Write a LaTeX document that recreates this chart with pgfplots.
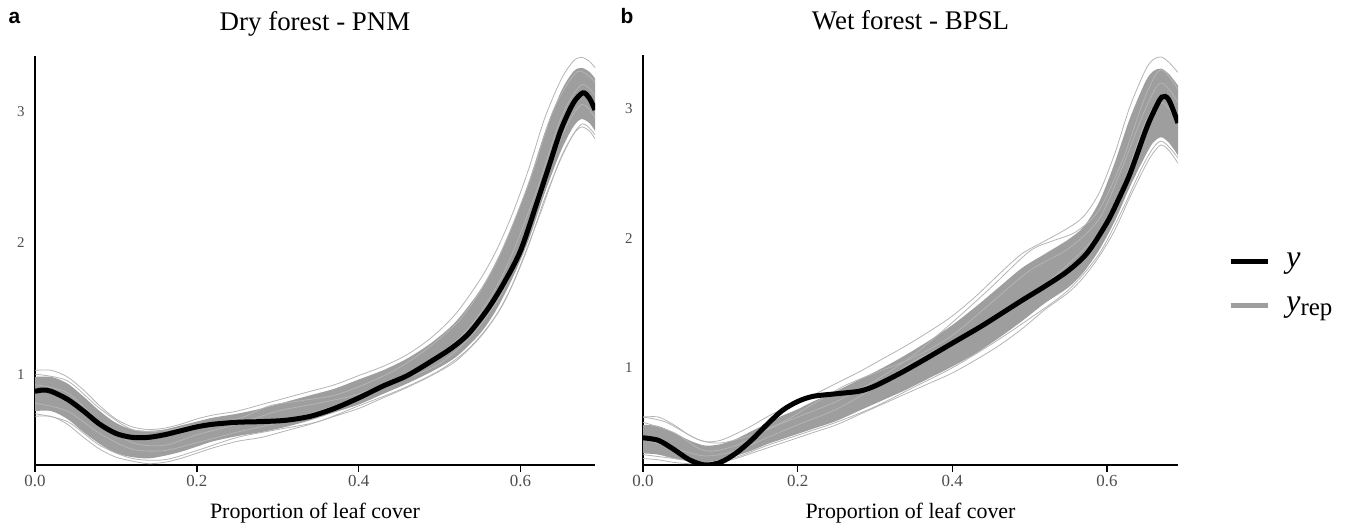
\documentclass[border=0pt]{standalone}
\usepackage{pgfplots}
\pgfplotsset{compat=1.18}
\usepgfplotslibrary{fillbetween}
\usepackage{fontspec}
\setmainfont{Liberation Serif}
\newfontfamily\lab{Liberation Sans}
\newfontfamily\legfont{Liberation Serif}
\definecolor{corecol}{HTML}{9E9E9E}
\definecolor{repcol}{HTML}{B4B4B4}
\pgfplotsset{
  common/.style={
    scale only axis,
    xmin=0, xmax=0.692,
    axis x line*=bottom, axis y line*=left,
    axis line style={-, line width=1.5bp, black},
    xtick={0,0.2,0.4,0.6},
    xticklabels={0.0,0.2,0.4,0.6},
    ytick={1,2,3},
    tick align=outside,
    major tick length=7bp,
    x tick style={line width=1.3bp, black},
    y tick style={draw=none},
    /pgf/number format/assume math mode=true,
    xticklabel style={font=\fontsize{17}{17}\selectfont, text=black!70},
    yticklabel style={font=\fontsize{15}{15}\selectfont, text=black!70},
    xlabel={Proportion of leaf cover},
    xlabel style={font=\fontsize{22}{22}\selectfont, at={(axis description cs:0.5,0)}, anchor=base, yshift=-53bp},
    title style={font=\fontsize{27}{27}\selectfont, at={(axis description cs:0.5,1)}, anchor=base, yshift=20bp},
    clip=true,
  },
  band/.style={fill=corecol, draw=none, forget plot},
  rep/.style={draw=repcol, line width=0.8bp, smooth, forget plot},
  obs/.style={draw=black, line width=5bp, smooth, forget plot},
}
\begin{document}
\begin{tikzpicture}
% ---------------- panel a
\begin{axis}[common, at={(35bp,62bp)}, anchor=south west,
  width=560bp, height=409bp, ymin=0.31, ymax=3.42,
  title={Dry forest - PNM}]
\addplot[rep] coordinates {(0,1.03)(0.02,1.03)(0.04,0.98)(0.06,0.88)(0.08,0.76)(0.10,0.66)(0.12,0.60)(0.14,0.58)(0.16,0.59)(0.18,0.62)(0.20,0.66)(0.22,0.69)(0.25,0.72)(0.28,0.77)(0.31,0.82)(0.34,0.87)(0.37,0.92)(0.40,0.99)(0.43,1.06)(0.46,1.15)(0.49,1.28)(0.52,1.46)(0.55,1.72)(0.57,1.94)(0.59,2.22)(0.61,2.56)(0.63,2.95)(0.65,3.24)(0.665,3.38)(0.675,3.41)(0.685,3.38)(0.692,3.33)};
\addplot[rep] coordinates {(0,0.68)(0.02,0.68)(0.04,0.62)(0.06,0.52)(0.08,0.43)(0.10,0.37)(0.12,0.34)(0.14,0.32)(0.16,0.33)(0.18,0.36)(0.20,0.40)(0.22,0.44)(0.25,0.49)(0.28,0.52)(0.31,0.57)(0.34,0.62)(0.37,0.68)(0.40,0.74)(0.43,0.82)(0.46,0.90)(0.49,0.99)(0.52,1.10)(0.55,1.28)(0.57,1.45)(0.59,1.68)(0.61,1.98)(0.63,2.34)(0.65,2.64)(0.665,2.82)(0.675,2.88)(0.685,2.85)(0.692,2.79)};
\addplot[rep] coordinates {(0,1.0)(0.04,0.95)(0.08,0.74)(0.12,0.58)(0.16,0.57)(0.20,0.62)(0.25,0.66)(0.29,0.76)(0.33,0.80)(0.37,0.84)(0.41,0.93)(0.45,1.05)(0.49,1.22)(0.53,1.45)(0.57,1.85)(0.61,2.45)(0.64,3.00)(0.67,3.30)(0.692,3.22)};
\addplot[rep] coordinates {(0,0.70)(0.04,0.64)(0.08,0.46)(0.12,0.36)(0.16,0.35)(0.20,0.42)(0.25,0.52)(0.30,0.58)(0.35,0.64)(0.40,0.76)(0.45,0.88)(0.50,1.03)(0.54,1.22)(0.58,1.55)(0.62,2.15)(0.65,2.65)(0.675,2.90)(0.692,2.82)};
\addplot[draw=none, smooth, name path=cua, forget plot] coordinates {(0,0.98)(0.02,0.98)(0.04,0.93)(0.06,0.83)(0.08,0.72)(0.10,0.63)(0.12,0.58)(0.14,0.57)(0.16,0.58)(0.18,0.61)(0.20,0.64)(0.22,0.67)(0.25,0.70)(0.28,0.74)(0.31,0.79)(0.34,0.84)(0.37,0.89)(0.40,0.96)(0.43,1.03)(0.46,1.12)(0.49,1.24)(0.52,1.40)(0.55,1.64)(0.57,1.86)(0.59,2.13)(0.61,2.46)(0.63,2.84)(0.65,3.15)(0.665,3.30)(0.675,3.33)(0.685,3.30)(0.692,3.25)};
\addplot[draw=none, smooth, name path=cla, forget plot] coordinates {(0,0.72)(0.02,0.72)(0.04,0.66)(0.06,0.56)(0.08,0.47)(0.10,0.40)(0.12,0.37)(0.14,0.36)(0.16,0.38)(0.18,0.41)(0.20,0.45)(0.22,0.49)(0.25,0.53)(0.28,0.56)(0.31,0.60)(0.34,0.65)(0.37,0.71)(0.40,0.77)(0.43,0.85)(0.46,0.93)(0.49,1.02)(0.52,1.13)(0.55,1.31)(0.57,1.49)(0.59,1.73)(0.61,2.02)(0.63,2.38)(0.65,2.70)(0.665,2.88)(0.675,2.94)(0.685,2.91)(0.692,2.85)};
\addplot[band] fill between[of=cua and cla];
\addplot[rep] coordinates {(0,0.92)(0.04,0.86)(0.08,0.64)(0.12,0.48)(0.16,0.46)(0.20,0.54)(0.25,0.62)(0.30,0.72)(0.35,0.78)(0.40,0.85)(0.45,0.98)(0.50,1.15)(0.54,1.38)(0.58,1.78)(0.62,2.40)(0.65,2.95)(0.675,3.20)(0.692,3.12)};
\addplot[rep] coordinates {(0,0.78)(0.04,0.72)(0.08,0.55)(0.12,0.43)(0.16,0.42)(0.20,0.48)(0.25,0.56)(0.30,0.63)(0.35,0.72)(0.40,0.82)(0.45,0.95)(0.50,1.08)(0.54,1.30)(0.58,1.65)(0.62,2.25)(0.65,2.80)(0.675,3.05)(0.692,2.95)};
\addplot[obs] coordinates {(0,0.87)(0.01,0.88)(0.02,0.87)(0.04,0.81)(0.06,0.72)(0.08,0.62)(0.10,0.55)(0.12,0.52)(0.14,0.52)(0.16,0.54)(0.18,0.57)(0.20,0.60)(0.22,0.62)(0.25,0.635)(0.28,0.64)(0.31,0.65)(0.34,0.68)(0.37,0.74)(0.40,0.82)(0.43,0.91)(0.46,0.99)(0.49,1.10)(0.515,1.20)(0.536,1.31)(0.56,1.50)(0.58,1.70)(0.60,1.94)(0.62,2.30)(0.635,2.58)(0.65,2.86)(0.665,3.06)(0.677,3.14)(0.685,3.10)(0.692,3.01)};
\end{axis}
% ---------------- panel b
\begin{axis}[common, at={(643bp,62bp)}, anchor=south west,
  width=535bp, height=410bp, ymin=0.25, ymax=3.415,
  title={Wet forest - BPSL},
  legend style={at={(1.094,0.443)}, anchor=west, draw=none, fill=none,
    inner sep=0pt, row sep=24bp, font=\legfont\fontsize{32}{34}\selectfont,
    cells={anchor=west}},
  legend image code/.code={\draw[#1] (0bp,0bp) -- (37bp,0bp);},
  legend style={/tikz/every odd column/.append style={column sep=14bp}}]
\addlegendimage{black, line width=5bp}
\addlegendentry{{\legfont\itshape y}}
\addlegendimage{corecol, line width=5bp}
\addlegendentry{{\legfont\itshape y}\raisebox{-4bp}{\legfont\upshape\fontsize{25}{25}\selectfont rep}}
\addplot[rep] coordinates {(0,0.62)(0.02,0.62)(0.04,0.56)(0.06,0.48)(0.08,0.43)(0.10,0.44)(0.12,0.49)(0.14,0.55)(0.16,0.62)(0.18,0.68)(0.20,0.73)(0.22,0.79)(0.25,0.88)(0.28,0.97)(0.31,1.07)(0.34,1.17)(0.37,1.28)(0.40,1.40)(0.43,1.55)(0.46,1.72)(0.49,1.88)(0.52,1.98)(0.55,2.08)(0.57,2.17)(0.59,2.35)(0.61,2.65)(0.63,3.02)(0.65,3.30)(0.66,3.38)(0.67,3.40)(0.68,3.36)(0.692,3.28)};
\addplot[rep] coordinates {(0,0.30)(0.02,0.29)(0.04,0.27)(0.06,0.26)(0.08,0.26)(0.10,0.27)(0.12,0.30)(0.14,0.34)(0.16,0.38)(0.18,0.42)(0.20,0.46)(0.22,0.50)(0.25,0.56)(0.28,0.64)(0.31,0.72)(0.34,0.80)(0.37,0.88)(0.40,0.96)(0.43,1.06)(0.46,1.17)(0.49,1.30)(0.52,1.45)(0.55,1.58)(0.57,1.70)(0.59,1.86)(0.61,2.06)(0.63,2.32)(0.65,2.56)(0.66,2.66)(0.67,2.72)(0.68,2.68)(0.692,2.58)};
\addplot[rep] coordinates {(0,0.58)(0.04,0.50)(0.08,0.36)(0.12,0.40)(0.16,0.52)(0.20,0.62)(0.25,0.74)(0.30,0.90)(0.35,1.10)(0.40,1.35)(0.45,1.62)(0.50,1.90)(0.53,1.98)(0.56,2.05)(0.59,2.22)(0.62,2.60)(0.65,3.10)(0.67,3.30)(0.692,3.15)};
\addplot[rep] coordinates {(0,0.33)(0.04,0.30)(0.08,0.27)(0.12,0.31)(0.16,0.40)(0.20,0.48)(0.25,0.58)(0.30,0.70)(0.35,0.85)(0.40,1.00)(0.45,1.18)(0.50,1.38)(0.55,1.60)(0.59,1.88)(0.62,2.22)(0.65,2.60)(0.67,2.75)(0.692,2.62)};
\addplot[draw=none, smooth, name path=cub, forget plot] coordinates {(0,0.56)(0.02,0.55)(0.04,0.50)(0.06,0.44)(0.08,0.40)(0.10,0.41)(0.12,0.45)(0.14,0.51)(0.16,0.57)(0.18,0.63)(0.20,0.68)(0.22,0.74)(0.25,0.82)(0.28,0.91)(0.31,1.00)(0.34,1.10)(0.37,1.21)(0.40,1.33)(0.43,1.47)(0.46,1.62)(0.49,1.77)(0.52,1.88)(0.55,1.99)(0.57,2.09)(0.59,2.28)(0.61,2.58)(0.63,2.93)(0.65,3.21)(0.66,3.29)(0.67,3.31)(0.68,3.27)(0.692,3.18)};
\addplot[draw=none, smooth, name path=clb, forget plot] coordinates {(0,0.34)(0.02,0.33)(0.04,0.30)(0.06,0.28)(0.08,0.27)(0.10,0.29)(0.12,0.32)(0.14,0.36)(0.16,0.41)(0.18,0.45)(0.20,0.49)(0.22,0.53)(0.25,0.59)(0.28,0.67)(0.31,0.75)(0.34,0.83)(0.37,0.92)(0.40,1.01)(0.43,1.11)(0.46,1.23)(0.49,1.36)(0.52,1.50)(0.55,1.62)(0.57,1.74)(0.59,1.91)(0.61,2.13)(0.63,2.40)(0.65,2.64)(0.66,2.74)(0.67,2.78)(0.68,2.74)(0.692,2.64)};
\addplot[band] fill between[of=cub and clb];
\addplot[rep] coordinates {(0,0.62)(0.03,0.58)(0.07,0.45)(0.10,0.42)(0.14,0.48)(0.18,0.58)(0.22,0.72)(0.26,0.86)(0.30,0.96)(0.35,1.08)(0.40,1.25)(0.45,1.50)(0.50,1.75)(0.55,1.92)(0.59,2.15)(0.62,2.55)(0.65,3.00)(0.67,3.20)(0.692,3.05)};
\addplot[rep] coordinates {(0,0.45)(0.04,0.38)(0.08,0.32)(0.12,0.36)(0.16,0.46)(0.20,0.56)(0.25,0.68)(0.30,0.85)(0.35,1.05)(0.40,1.20)(0.45,1.35)(0.50,1.55)(0.55,1.80)(0.59,2.05)(0.62,2.40)(0.65,2.90)(0.67,3.05)(0.692,2.90)};
\addplot[obs] coordinates {(0,0.46)(0.02,0.44)(0.04,0.37)(0.06,0.29)(0.08,0.25)(0.10,0.27)(0.12,0.34)(0.14,0.44)(0.16,0.56)(0.18,0.67)(0.20,0.74)(0.22,0.78)(0.25,0.80)(0.28,0.82)(0.30,0.86)(0.33,0.95)(0.36,1.05)(0.40,1.19)(0.44,1.33)(0.49,1.52)(0.52,1.63)(0.55,1.75)(0.575,1.89)(0.60,2.12)(0.615,2.30)(0.63,2.50)(0.65,2.83)(0.66,2.97)(0.671,3.09)(0.68,3.07)(0.692,2.89)};
\end{axis}
\node[font=\lab\bfseries\fontsize{21}{21}\selectfont, anchor=base west] at (5bp,503bp) {a};
\node[font=\lab\bfseries\fontsize{21}{21}\selectfont, anchor=base west] at (617bp,503bp) {b};
\pgfresetboundingbox
\path[use as bounding box] (0,0) rectangle (1355bp,527bp);
\end{tikzpicture}
\end{document}
